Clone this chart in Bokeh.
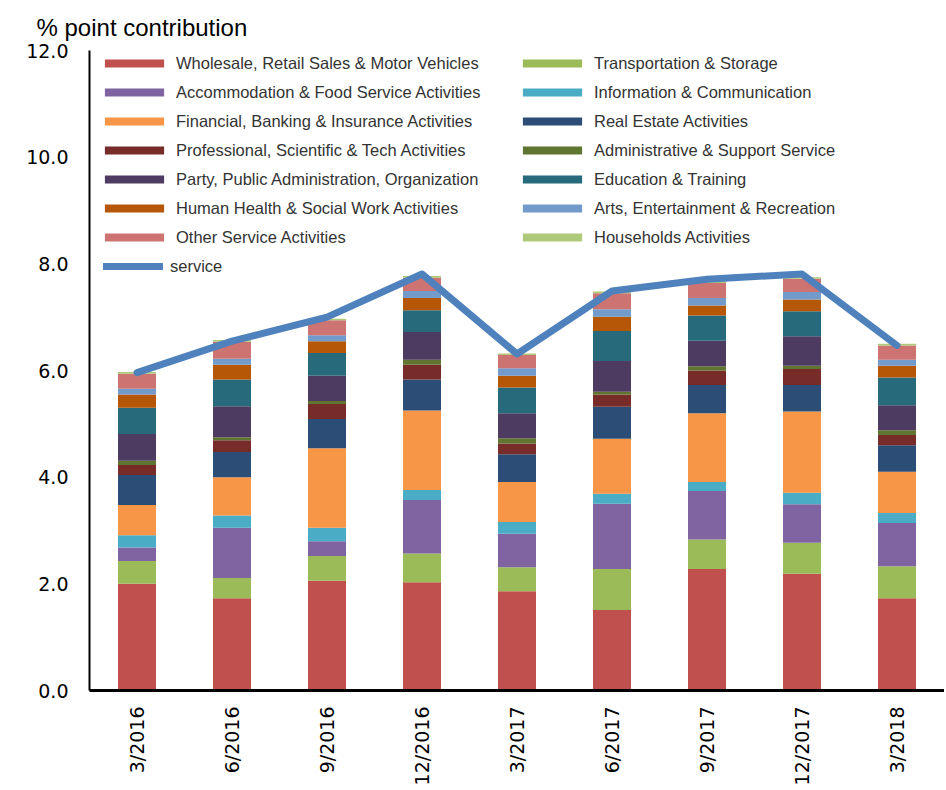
from bokeh.plotting import figure
from bokeh.models import (ColumnDataSource, FactorRange, Range1d, Legend, LegendItem,
                          FixedTicker, PrintfTickFormatter)
from bokeh.embed import file_html
from bokeh.resources import INLINE

periods = ["3/2016", "6/2016", "9/2016", "12/2016", "3/2017", "6/2017", "9/2017", "12/2017", "3/2018"]

wholesale      = [2.00, 1.73, 2.06, 2.03, 1.86, 1.51, 2.28, 2.19, 1.73]
transport      = [0.43, 0.38, 0.46, 0.54, 0.45, 0.77, 0.55, 0.58, 0.60]
accommodation  = [0.25, 0.94, 0.28, 1.00, 0.63, 1.22, 0.91, 0.72, 0.81]
information    = [0.23, 0.23, 0.25, 0.19, 0.22, 0.19, 0.17, 0.22, 0.19]
financial      = [0.57, 0.72, 1.49, 1.49, 0.75, 1.03, 1.29, 1.52, 0.77]
real_estate    = [0.56, 0.47, 0.55, 0.58, 0.52, 0.60, 0.53, 0.50, 0.50]
professional   = [0.19, 0.22, 0.28, 0.28, 0.20, 0.23, 0.27, 0.30, 0.19]
administrative = [0.08, 0.06, 0.06, 0.09, 0.10, 0.05, 0.08, 0.06, 0.09]
party          = [0.50, 0.58, 0.47, 0.52, 0.47, 0.58, 0.48, 0.55, 0.47]
education      = [0.49, 0.50, 0.43, 0.41, 0.48, 0.56, 0.47, 0.47, 0.52]
health         = [0.25, 0.28, 0.22, 0.23, 0.22, 0.27, 0.19, 0.22, 0.22]
arts           = [0.11, 0.11, 0.11, 0.13, 0.14, 0.14, 0.14, 0.14, 0.11]
other          = [0.28, 0.32, 0.28, 0.25, 0.25, 0.30, 0.28, 0.25, 0.27]
households     = [0.03, 0.03, 0.03, 0.03, 0.03, 0.03, 0.03, 0.03, 0.03]
service        = [5.96, 6.55, 7.00, 7.81, 6.31, 7.49, 7.71, 7.81, 6.47]

series_names = [
    "Wholesale, Retail Sales & Motor Vehicles", "Transportation & Storage",
    "Accommodation & Food Service Activities", "Information & Communication",
    "Financial, Banking & Insurance Activities", "Real Estate Activities",
    "Professional, Scientific & Tech Activities", "Administrative & Support Service",
    "Party, Public Administration, Organization", "Education & Training",
    "Human Health & Social Work Activities", "Arts, Entertainment & Recreation",
    "Other Service Activities", "Households Activities",
]
series_values = [wholesale, transport, accommodation, information, financial, real_estate,
                 professional, administrative, party, education, health, arts, other, households]
colors = ["#C0504D", "#9BBB59", "#8064A2", "#4BACC6", "#F79646", "#2C4D75", "#772C2A",
          "#5F7530", "#4D3B62", "#276A7C", "#B65708", "#729ACA", "#CD7371", "#AFC97A"]

keys = ["s%d" % i for i in range(len(series_names))]
data = {"period": periods, "service": service}
for k, v in zip(keys, series_values):
    data[k] = v
source = ColumnDataSource(data)

p = figure(x_range=FactorRange(*periods), y_range=Range1d(0, 12),
           width=944, height=788, output_backend="svg", toolbar_location=None,
           min_border_left=89, min_border_right=0, min_border_top=50, min_border_bottom=98)
p.outline_line_color = None
p.xgrid.grid_line_color = None
p.ygrid.grid_line_color = None

p.title.text = "% point contribution"
p.title.text_font = "Liberation Sans"
p.title.text_font_size = "24px"
p.title.text_font_style = "normal"
p.title.text_color = "#000000"
p.title.align = "left"
p.title.offset = -53
p.title.standoff = 20

bars = p.vbar_stack(keys, x="period", width=0.4, source=source, fill_color=colors,
                    line_color=None)
line = p.line(x="period", y="service", source=source, line_color="#4F81BD", line_width=7,
              line_join="round", line_cap="round")

# axes
p.yaxis.ticker = FixedTicker(ticks=[0, 2, 4, 6, 8, 10, 12])
p.yaxis.formatter = PrintfTickFormatter(format="%.1f")
p.yaxis.major_label_text_font = "DejaVu Sans"
p.yaxis.major_label_text_font_size = "19px"
p.yaxis.major_label_text_color = "#000000"
p.yaxis.major_tick_in = 0
p.yaxis.major_tick_out = 0
p.yaxis.minor_tick_in = 0
p.yaxis.minor_tick_out = 0
p.yaxis.major_label_standoff = 21
p.yaxis.axis_line_color = "#000000"
p.yaxis.axis_line_width = 2

p.xaxis.major_label_orientation = 1.5708
p.xaxis.major_label_text_font = "DejaVu Sans"
p.xaxis.major_label_text_font_size = "19px"
p.xaxis.major_label_text_color = "#000000"
p.xaxis.major_tick_in = 0
p.xaxis.major_tick_out = 0
p.xaxis.major_label_standoff = 16
p.xaxis.axis_line_color = "#000000"
p.xaxis.axis_line_width = 3

def make_legend(items, loc, gw, gh, standoff):
    lg = Legend(items=items, location=loc, orientation="vertical",
                glyph_width=gw, glyph_height=gh, label_height=20, spacing=9,
                label_standoff=standoff, padding=0, margin=0,
                border_line_alpha=0, background_fill_alpha=0,
                label_text_font="Liberation Sans", label_text_font_size="16.5px",
                label_text_color="#333333")
    return lg

col1 = [LegendItem(label=series_names[i], renderers=[bars[i]]) for i in range(0, 14, 2)]
col2 = [LegendItem(label=series_names[i], renderers=[bars[i]]) for i in range(1, 14, 2)]
p.add_layout(make_legend(col1, (8, 443), 74, 10, 5))
p.add_layout(make_legend(col2, (426, 443), 74, 10, 5))
p.add_layout(make_legend([LegendItem(label="service", renderers=[line])], (14, 414), 60, 10, 7))

open("out.html", "w").write(file_html(p, INLINE))
